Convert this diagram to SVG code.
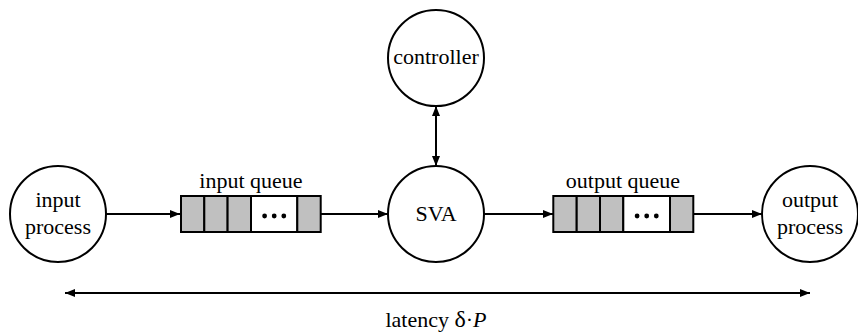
<svg xmlns="http://www.w3.org/2000/svg" width="858" height="335" viewBox="0 0 858 335">
  <style>
    .node { fill: #ffffff; stroke: #000000; stroke-width: 2; }
    .cell { fill: #c0c0c0; stroke: #000000; stroke-width: 2; }
    .gap  { fill: #ffffff; stroke: #000000; stroke-width: 2; }
    .edge { fill: none; stroke: #000000; stroke-width: 2; }
    .lbl  { font-family: "Liberation Serif", "Times New Roman", serif; font-size: 22px; fill: #000000; text-anchor: middle; }
    .dot  { fill: #000000; }
  </style>
  <defs>
    <marker id="arrow" viewBox="0 0 10 8" refX="10" refY="4" markerWidth="10" markerHeight="8" markerUnits="userSpaceOnUse" orient="auto-start-reverse">
      <path d="M0,0 L10,4 L0,8 Z" fill="#000000"/>
    </marker>
  </defs>

  <!-- connectors -->
  <g id="connectors">
    <line class="edge" x1="106" y1="214" x2="180" y2="214" marker-end="url(#arrow)"/>
    <line class="edge" x1="321" y1="214" x2="388" y2="214" marker-end="url(#arrow)"/>
    <line class="edge" x1="484" y1="214" x2="553" y2="214" marker-end="url(#arrow)"/>
    <line class="edge" x1="694" y1="214" x2="762" y2="214" marker-end="url(#arrow)"/>
    <line class="edge" x1="436" y1="106" x2="436" y2="166" marker-start="url(#arrow)" marker-end="url(#arrow)"/>
    <line class="edge" x1="65" y1="293" x2="810" y2="293" marker-start="url(#arrow)" marker-end="url(#arrow)"/>
  </g>

  <!-- process nodes -->
  <g id="input-process">
    <circle class="node" cx="58" cy="214" r="48"/>
    <text class="lbl" x="58" y="207">input</text>
    <text class="lbl" x="58" y="234">process</text>
  </g>

  <g id="controller">
    <circle class="node" cx="436" cy="58" r="48"/>
    <text class="lbl" x="436" y="64">controller</text>
  </g>

  <g id="sva">
    <circle class="node" cx="436" cy="214" r="48"/>
    <text class="lbl" x="436" y="221">SVA</text>
  </g>

  <g id="output-process">
    <circle class="node" cx="810" cy="214" r="48"/>
    <text class="lbl" x="810" y="207">output</text>
    <text class="lbl" x="810" y="234">process</text>
  </g>

  <!-- queues -->
  <g id="input-queue">
    <text class="lbl" x="251" y="188">input queue</text>
    <rect class="cell" x="181" y="196" width="23.3" height="36"/>
    <rect class="cell" x="204.3" y="196" width="23.3" height="36"/>
    <rect class="cell" x="227.6" y="196" width="23.4" height="36"/>
    <rect class="gap" x="251" y="196" width="46.3" height="36"/>
    <rect class="cell" x="297.3" y="196" width="23.4" height="36"/>
    <circle class="dot" cx="264.6" cy="216" r="2.4"/>
    <circle class="dot" cx="274.2" cy="216" r="2.4"/>
    <circle class="dot" cx="283.8" cy="216" r="2.4"/>
  </g>

  <g id="output-queue">
    <text class="lbl" x="623" y="188">output queue</text>
    <rect class="cell" x="553.3" y="196" width="23.4" height="36"/>
    <rect class="cell" x="576.7" y="196" width="23.3" height="36"/>
    <rect class="cell" x="600" y="196" width="23.3" height="36"/>
    <rect class="gap" x="623.3" y="196" width="46.7" height="36"/>
    <rect class="cell" x="670" y="196" width="23.3" height="36"/>
    <circle class="dot" cx="637.1" cy="216" r="2.4"/>
    <circle class="dot" cx="646.7" cy="216" r="2.4"/>
    <circle class="dot" cx="656.3" cy="216" r="2.4"/>
  </g>

  <!-- latency span label -->
  <text class="lbl" x="436" y="327">latency <tspan font-size="24">δ</tspan>·<tspan font-style="italic">P</tspan></text>
</svg>
